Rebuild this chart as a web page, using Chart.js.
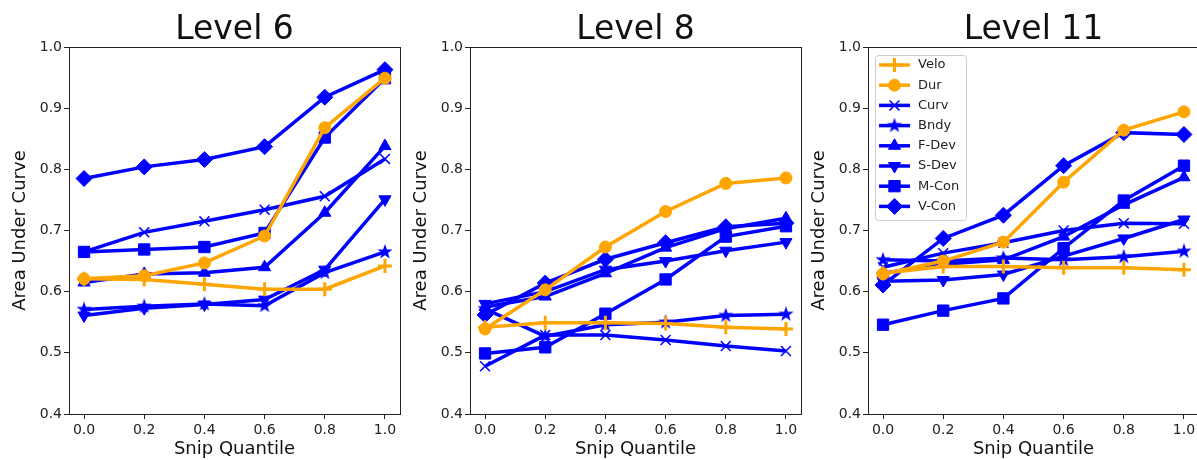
<!DOCTYPE html>
<html lang="en">
<head>
<meta charset="UTF-8">
<title>Area Under Curve vs Snip Quantile</title>
<script src="https://cdn.jsdelivr.net/npm/chart.js@4.4.1/dist/chart.umd.min.js"></script>
<style>
  html, body { margin: 0; padding: 0; background: #fff; overflow: hidden; }
  body { width: 1197px; height: 460px; position: relative; }
  .panel { position: absolute; top: 0; width: 410px; height: 460px; }
</style>
</head>
<body>
<div class="panel" style="left:0px"><canvas id="level6"></canvas></div>
<div class="panel" style="left:401px"><canvas id="level8"></canvas></div>
<div class="panel" style="left:799px"><canvas id="level11"></canvas></div>

<script>
// x categories and tick labels
const quantiles = [0.0, 0.2, 0.4, 0.6, 0.8, 1.0];
const yTicks = [0.4, 0.5, 0.6, 0.7, 0.8, 0.9, 1.0];
const seriesNames = ['Velo', 'Dur', 'Curv', 'Bndy', 'F-Dev', 'S-Dev', 'M-Con', 'V-Con'];

// Level 6
const l6Velo = [0.621, 0.620, 0.612, 0.604, 0.604, 0.642];
const l6Dur  = [0.621, 0.626, 0.647, 0.691, 0.868, 0.949];
const l6Curv = [0.665, 0.697, 0.715, 0.734, 0.756, 0.817];
const l6Bndy = [0.571, 0.576, 0.580, 0.577, 0.631, 0.665];
const l6FDev = [0.615, 0.629, 0.631, 0.640, 0.729, 0.838];
const l6SDev = [0.561, 0.573, 0.579, 0.587, 0.636, 0.751];
const l6MCon = [0.665, 0.669, 0.673, 0.696, 0.852, 0.949];
const l6VCon = [0.785, 0.804, 0.816, 0.837, 0.918, 0.963];

// Level 8
const l8Velo = [0.542, 0.549, 0.549, 0.548, 0.542, 0.539];
const l8Dur  = [0.539, 0.603, 0.673, 0.731, 0.777, 0.786];
const l8Curv = [0.478, 0.529, 0.529, 0.521, 0.511, 0.503];
const l8Bndy = [0.572, 0.527, 0.546, 0.550, 0.561, 0.563];
const l8FDev = [0.575, 0.592, 0.630, 0.672, 0.703, 0.720];
const l8SDev = [0.580, 0.600, 0.636, 0.650, 0.667, 0.681];
const l8MCon = [0.499, 0.509, 0.564, 0.620, 0.690, 0.707];
const l8VCon = [0.562, 0.614, 0.653, 0.680, 0.706, 0.712];

// Level 11
const l11Velo = [0.630, 0.641, 0.641, 0.639, 0.639, 0.636];
const l11Dur  = [0.629, 0.650, 0.681, 0.779, 0.864, 0.894];
const l11Curv = [0.640, 0.663, 0.680, 0.700, 0.712, 0.711];
const l11Bndy = [0.652, 0.650, 0.655, 0.652, 0.657, 0.666];
const l11FDev = [0.630, 0.645, 0.652, 0.690, 0.742, 0.787];
const l11SDev = [0.617, 0.619, 0.628, 0.658, 0.687, 0.718];
const l11MCon = [0.546, 0.569, 0.589, 0.671, 0.749, 0.806];
const l11VCon = [0.611, 0.687, 0.725, 0.806, 0.860, 0.857];

const BLUE = '#0000ff';
const ORANGE = '#ffa500';
const FONT = 'DejaVu Sans';

// filled 5-point star like matplotlib '*'
function starImage(size, color) {
  const c = document.createElement('canvas');
  c.width = size; c.height = size;
  const g = c.getContext('2d');
  g.fillStyle = color;
  g.beginPath();
  for (let i = 0; i < 10; i++) {
    const r = i % 2 ? size * 0.2 : size * 0.5;
    const a = -Math.PI / 2 + i * Math.PI / 5;
    const px = size / 2 + r * Math.cos(a), py = size / 2 + r * Math.sin(a);
    if (i === 0) g.moveTo(px, py); else g.lineTo(px, py);
  }
  g.closePath();
  g.fill();
  return c;
}
const star = starImage(16, BLUE);

const markerStyles = [
  { color: ORANGE, style: 'cross',    radius: 7,   rotation: 0,   border: 3 },
  { color: ORANGE, style: 'circle',   radius: 6,   rotation: 0,   border: 1 },
  { color: BLUE,   style: 'crossRot', radius: 7,   rotation: 0,   border: 1.5 },
  { color: BLUE,   style: star,       radius: 7,   rotation: 0,   border: 1 },
  { color: BLUE,   style: 'triangle', radius: 7,   rotation: 0,   border: 1 },
  { color: BLUE,   style: 'triangle', radius: 7,   rotation: 180, border: 1 },
  { color: BLUE,   style: 'rect',     radius: 8,   rotation: 0,   border: 1 },
  { color: BLUE,   style: 'rectRot',  radius: 8,   rotation: 0,   border: 1 }
];

// axes box (all four spines) + panel title centred on the axes
const frame = {
  id: 'frame',
  afterDatasetsDraw(chart, args, opts) {
    const { ctx, chartArea: a } = chart;
    ctx.save();
    ctx.strokeStyle = '#222';
    ctx.lineWidth = 1;
    ctx.strokeRect(Math.round(a.left) + 0.5, Math.round(a.top) + 0.5,
                   Math.round(a.right - a.left), Math.round(a.bottom - a.top));
    ctx.fillStyle = '#111';
    ctx.font = '33px "' + FONT + '"';
    ctx.textAlign = 'center';
    ctx.textBaseline = 'alphabetic';
    ctx.fillText(opts.title, (a.left + a.right) / 2, 39);
    ctx.restore();
  }
};

// matplotlib-like legend in the upper-left corner of the axes
const boxLegend = {
  id: 'boxLegend',
  afterDraw(chart, args, opts) {
    if (!opts.show) return;
    const { ctx, chartArea: a } = chart;
    const x0 = a.left + 7, y0 = a.top + 8, w = 91, h = 165;
    ctx.save();
    ctx.fillStyle = 'rgba(255,255,255,0.85)';
    ctx.strokeStyle = '#cccccc';
    ctx.lineWidth = 1;
    ctx.beginPath();
    ctx.roundRect(x0 + 0.5, y0 + 0.5, w, h, 3);
    ctx.fill();
    ctx.stroke();
    seriesNames.forEach((name, i) => {
      const m = markerStyles[i];
      const y = y0 + 10 + i * 20.2;
      ctx.strokeStyle = m.color;
      ctx.fillStyle = m.color;
      ctx.lineWidth = 3.5;
      ctx.beginPath();
      ctx.moveTo(x0 + 4, y);
      ctx.lineTo(x0 + 35, y);
      ctx.stroke();
      ctx.lineWidth = m.border;
      Chart.helpers.drawPoint(ctx, {
        pointStyle: m.style, rotation: m.rotation, radius: m.radius, borderWidth: m.border
      }, x0 + 19.5, y);
      ctx.fillStyle = '#222';
      ctx.font = '13px "' + FONT + '"';
      ctx.textBaseline = 'middle';
      ctx.fillText(name, x0 + 43, y);
    });
    ctx.restore();
  }
};

function makePanel(id, title, seriesValues, showLegend) {
  const datasets = seriesValues.map((vals, i) => {
    const m = markerStyles[i];
    return {
      label: seriesNames[i],
      data: quantiles.map((q, j) => ({ x: q, y: vals[j] })),
      borderColor: m.color,
      backgroundColor: m.color,
      borderWidth: 3.5,
      pointStyle: m.style,
      pointRadius: m.radius,
      pointRotation: m.rotation,
      pointBorderWidth: m.border,
      pointBackgroundColor: m.color,
      pointBorderColor: m.color,
      tension: 0,
      clip: false
    };
  });

  const tickFont = { family: FONT, size: 14 };
  const titleFont = { family: FONT, size: 18 };

  new Chart(document.getElementById(id), {
    type: 'line',
    data: { datasets },
    plugins: [frame, boxLegend],
    options: {
      responsive: true,
      maintainAspectRatio: false,
      animation: false,
      events: [],
      layout: { padding: { left: 10, right: 8, top: 47, bottom: 0 } },
      plugins: {
        legend: { display: false },
        tooltip: { enabled: false },
        title: { display: false },
        frame: { title: title },
        boxLegend: { show: showLegend }
      },
      scales: {
        x: {
          type: 'linear',
          min: -0.05,
          max: 1.05,
          afterBuildTicks: s => { s.ticks = quantiles.map(v => ({ value: v })); },
          afterFit: s => { s.height = 46; },
          ticks: {
            callback: v => Number(v).toFixed(1),
            font: tickFont, color: '#222', padding: 3,
            maxRotation: 0, autoSkip: false
          },
          grid: { drawOnChartArea: false, drawTicks: true, tickLength: 5, tickColor: '#222' },
          border: { display: false },
          title: {
            display: true, text: 'Snip Quantile', color: '#111',
            font: titleFont, padding: { top: 0, bottom: 0 }
          }
        },
        y: {
          type: 'linear',
          min: 0.4,
          max: 1.0,
          afterBuildTicks: s => { s.ticks = yTicks.map(v => ({ value: v })); },
          afterFit: s => { s.width = 59; },
          ticks: {
            callback: v => Number(v).toFixed(1),
            font: tickFont, color: '#222', padding: 2, autoSkip: false
          },
          grid: { drawOnChartArea: false, drawTicks: true, tickLength: 5, tickColor: '#222' },
          border: { display: false },
          title: {
            display: true, text: 'Area Under Curve', color: '#111',
            font: titleFont, padding: { top: 0, bottom: 0 }
          }
        }
      }
    }
  });
}

makePanel('level6', 'Level 6',
  [l6Velo, l6Dur, l6Curv, l6Bndy, l6FDev, l6SDev, l6MCon, l6VCon], false);
makePanel('level8', 'Level 8',
  [l8Velo, l8Dur, l8Curv, l8Bndy, l8FDev, l8SDev, l8MCon, l8VCon], false);
makePanel('level11', 'Level 11',
  [l11Velo, l11Dur, l11Curv, l11Bndy, l11FDev, l11SDev, l11MCon, l11VCon], true);
</script>
</body>
</html>
